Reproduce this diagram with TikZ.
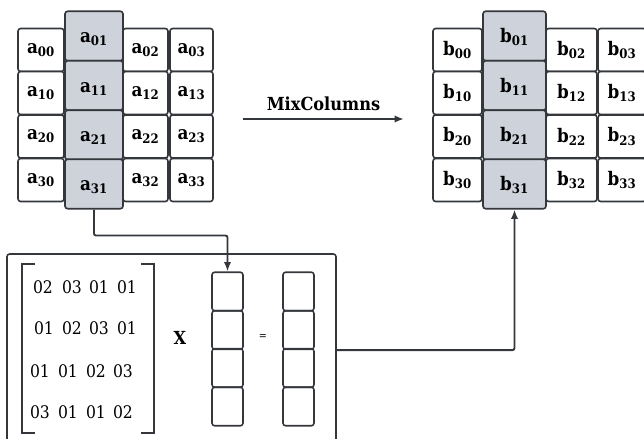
\documentclass[tikz,border=0pt]{standalone}
\usepackage{fontspec}
\setmainfont{DejaVu Serif Condensed}
\usetikzlibrary{arrows.meta,positioning}
\definecolor{cellgray}{HTML}{CED3DB}
\definecolor{linegray}{HTML}{34373C}

\tikzset{
  cell/.style={draw=linegray, line width=1.2pt, rounded corners=2pt, inner sep=0pt,
    fill=white, font=\fontsize{14}{14}\selectfont\bfseries, minimum height=32.25pt},
  graycell/.style={cell, fill=cellgray, minimum height=37.1pt, text height=13pt, text depth=3pt},
  veccell/.style={draw=linegray, line width=1.2pt, rounded corners=2pt,
    minimum width=23.25pt, minimum height=28.9pt},
  entry/.style={font=\fontsize{13}{13}\selectfont, inner sep=0pt},
  flow/.style={draw=linegray, line width=1.4pt, rounded corners=1.5pt,
    -{Latex[length=7pt,width=5.5pt]}},
  bracket/.style={draw=linegray, line width=1.7pt},
}

\begin{document}
\begin{tikzpicture}[x=0.75pt,y=-0.75pt]
\useasboundingbox (0,0) rectangle (644,439);
\clip (0,0) rectangle (644,439);

% state before
\foreach \r/\y in {0/50,1/93,2/136.5,3/180}{
  \node[cell, minimum width=34.5pt]  (a\r0) at (41,\y)    {a\textsubscript{\r0}};
  \node[cell, minimum width=33.75pt] (a\r2) at (145.5,\y) {a\textsubscript{\r2}};
  \node[cell, minimum width=32.25pt] (a\r3) at (191.5,\y) {a\textsubscript{\r3}};
}
\foreach \r/\y in {0/36,1/85.5,2/135,3/184}
  \node[graycell, minimum width=43.5pt] (a\r1) at (94,\y) {a\textsubscript{\r1}};

% state after
\foreach \r/\y in {0/50,1/93,2/136.5,3/180}{
  \node[cell, minimum width=36.75pt] (b\r0) at (457.5,\y) {b\textsubscript{\r0}};
  \node[cell, minimum width=38.25pt] (b\r2) at (571.5,\y) {b\textsubscript{\r2}};
  \node[cell, minimum width=36pt]    (b\r3) at (622,\y)   {b\textsubscript{\r3}};
}
\foreach \r/\y in {0/36,1/85.5,2/135,3/184}
  \node[graycell, minimum width=47.25pt] (b\r1) at (514.5,\y) {b\textsubscript{\r1}};

\coordinate (mixL) at (243,119);
\coordinate (mixR) at (404,119);
\draw[flow] (mixL) -- node[above=2pt, font=\fontsize{13.5}{13.5}\selectfont\bfseries] {MixColumns} (mixR);

% multiplication box
\node[draw=linegray, line width=1.2pt, rounded corners=2pt, minimum width=246.75pt,
  minimum height=156pt] (mixbox) at (171.5,358) {};

\draw[bracket] (35,264) -- (22,264) -- (22,433) -- (35,433);
\draw[bracket] (141,264) -- (154,264) -- (154,433) -- (141,433);

\node[entry] (m00) at (43,287)  {02};
\node[entry] (m01) at (72,287)  {03};
\node[entry] (m02) at (99,287)  {01};
\node[entry] (m03) at (127,287) {01};
\node[entry] (m10) at (44,328)  {01};
\node[entry] (m11) at (72,328)  {02};
\node[entry] (m12) at (99,328)  {03};
\node[entry] (m13) at (127,328) {01};
\node[entry] (m20) at (40,371)  {01};
\node[entry] (m21) at (68,371)  {01};
\node[entry] (m22) at (96,371)  {02};
\node[entry] (m23) at (123,371) {03};
\node[entry] (m30) at (40,412)  {03};
\node[entry] (m31) at (68,412)  {01};
\node[entry] (m32) at (96,412)  {01};
\node[entry] (m33) at (123,412) {02};

\node[font=\fontsize{13.5}{13.5}\selectfont\bfseries] (times) at (180,338) {X};
\node[font=\fontsize{8}{8}\selectfont] (equals) at (263,337) {=};

\foreach \i/\y in {1/291.5,2/330,3/368,4/406.5}{
  \node[veccell] (v\i) at (227.5,\y) {};
  \node[veccell] (w\i) at (298.5,\y) {};
}

% connectors
\draw[flow] (a31.south) -- ++(0,26) -| (v1.north);
\draw[flow] (mixbox.east |- w2.south) -| (b31.south);
\end{tikzpicture}
\end{document}
